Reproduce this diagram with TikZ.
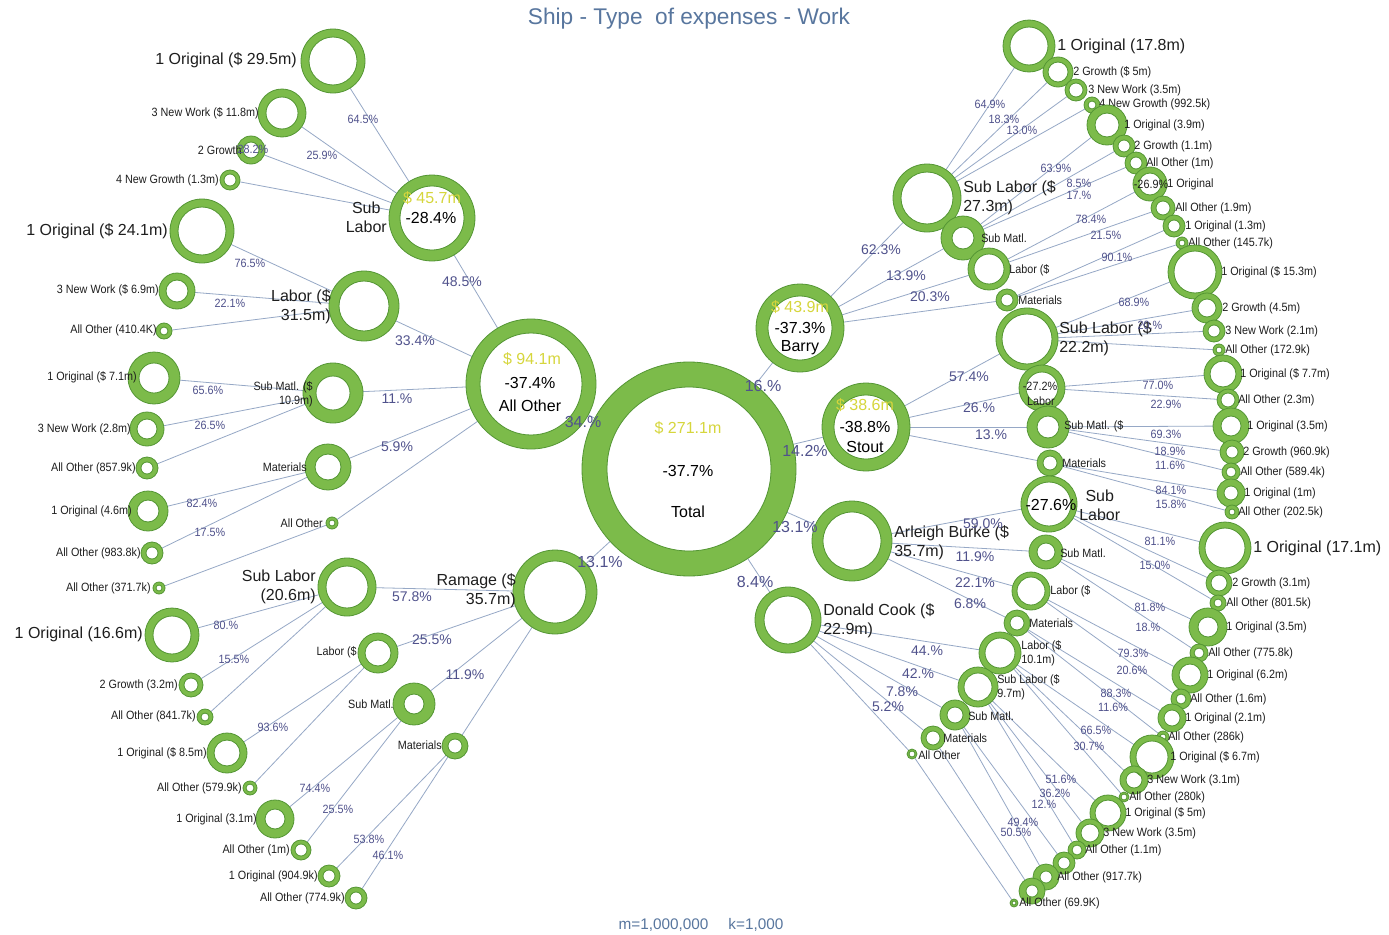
\documentclass[tikz,border=0pt]{standalone}
\usepackage{fontspec}
\setmainfont{Liberation Sans}
\newfontfamily\nf[FakeStretch=0.9]{Liberation Sans}
\definecolor{ringg}{RGB}{124,187,74}
\definecolor{ringd}{RGB}{84,150,52}
\definecolor{linec}{RGB}{150,168,198}
\definecolor{pctc}{RGB}{80,82,140}
\definecolor{labc}{RGB}{30,30,30}
\definecolor{yelc}{RGB}{214,214,60}
\definecolor{titc}{RGB}{88,118,158}
\pgfdeclarelayer{back}
\pgfdeclarelayer{edges}
\pgfsetlayers{back,edges,main}
\tikzset{
  ringfill/.style={fill=ringg, draw=ringd, line width=0.6pt, even odd rule},
  conn/.style={draw=linec, line width=0.6pt},
  big/.style={font=\fontsize{12}{14}\selectfont, text=labc, inner sep=0pt},
  sm/.style={font=\nf\fontsize{9}{10.5}\selectfont, text=labc, inner sep=0pt},
  ps/.style={font=\nf\fontsize{9}{10}\selectfont, text=pctc, inner sep=0pt},
  pm/.style={font=\fontsize{10.5}{12}\selectfont, text=pctc, inner sep=0pt},
  pl/.style={font=\fontsize{12}{13}\selectfont, text=pctc, inner sep=0pt},
  hub/.style={font=\fontsize{12}{13}\selectfont, text=black, inner sep=0pt},
  hubv/.style={font=\fontsize{12}{13}\selectfont, text=yelc, inner sep=0pt},
}
\newcounter{lbl}
\newcommand\Rg[5]{%
  \pgfmathsetmacro\RgA{#4*0.75}\pgfmathsetmacro\RgB{#5*0.75}\pgfmathsetmacro\RgD{#4*1.5}%
  \node[circle, inner sep=0pt, outer sep=0pt, minimum size=\RgD pt] (#1) at (#2,#3) {};
  \path[ringfill] (#1.center) circle[radius=\RgA pt] (#1.center) circle[radius=\RgB pt];}
\newcommand\LL[4][sm]{\stepcounter{lbl}\node[#1,anchor=east] (t\arabic{lbl}) at (#2,#3) {#4};}
\newcommand\LR[4][sm]{\stepcounter{lbl}\node[#1,anchor=west] (t\arabic{lbl}) at (#2,#3) {#4};}
\newcommand\PC[4][ps]{\stepcounter{lbl}\node[#1] (p\arabic{lbl}) at (#2,#3) {#4};}
\newcommand\E[2]{\draw[conn] (#1) -- (#2);}
\begin{document}
\begin{tikzpicture}[x=0.75pt,y=-0.75pt]
\begin{pgfonlayer}{back}
\fill[white] (0,0) rectangle (1389,935);
\end{pgfonlayer}
\useasboundingbox (0,0) rectangle (1389,935);
\node[font=\fontsize{17}{19}\selectfont, text=titc] (title) at (689,19) {Ship - Type~ of expenses - Work};
\node[font=\fontsize{11.5}{13}\selectfont, text=titc] (foot) at (701,925) {m=1,000,000\hspace{1.3em}k=1,000};
% ---------- level 0/1
\Rg{T}{689}{469}{107}{82}
\Rg{AO}{531}{384}{65}{51}
\Rg{BA}{800}{328}{44}{32}
\Rg{ST}{866}{427}{44}{32}
\Rg{AB}{852}{541}{40}{29}
\Rg{DC}{788}{620}{33}{24}
\Rg{RA}{555}{592}{42}{31}
\PC[hubv]{688}{428}{\$ 271.1m}\PC[hub]{688}{471}{-37.7\%}\PC[hub]{688}{512}{Total}
\PC[hubv]{532}{359}{\$ 94.1m}\PC[hub]{530}{383}{-37.4\%}\PC[hub]{530}{406}{All Other}
\PC[hubv]{800}{307}{\$ 43.9m}\PC[hub]{800}{328}{-37.3\%}\PC[hub]{800}{348}{Barry}
\PC[hubv]{865}{405}{\$ 38.6m}\PC[hub]{865}{427}{-38.8\%}\PC[hub]{865}{447}{Stout}
\LL[big,align=right]{516}{591}{Ramage (\$\\35.7m)}
\LR[big,align=left]{894}{543}{Arleigh Burke (\$\\35.7m)}
\LR[big,align=left]{823}{621}{Donald Cook (\$\\22.9m)}
\PC[pl]{583}{422}{34.\%}\PC[pl]{763}{386}{16.\%}\PC[pl]{805}{451}{14.2\%}
\PC[pl]{795}{527}{13.1\%}\PC[pl]{755}{582}{8.4\%}\PC[pl]{600}{562}{13.1\%}
% ---------- All Other subtree
\Rg{aosl}{432}{218}{43}{32}
\PC[hubv]{432}{198}{\$ 45.7m}\PC[hub]{431}{218}{-28.4\%}
\LL[big,align=center]{387}{217}{Sub\\Labor}
\PC[pm]{462}{282}{48.5\%}
\Rg{aoslO}{333}{61}{32}{24}\LL[big]{297}{60}{1 Original (\$ 29.5m)}\PC{363}{119}{64.5\%}
\Rg{aoslN}{282}{113}{24}{16}\LL{259}{113}{3 New Work (\$ 11.8m)}\PC{322}{155}{25.9\%}
\Rg{aoslG}{251}{150}{14}{8}\LL{242}{150}{2 Growth}\PC{253}{149}{28.2\%}
\Rg{aoslNG}{230}{180}{10}{6}\LL{219}{180}{4 New Growth (1.3m)}
\Rg{aolb}{364}{306}{35}{25}\LL[big,align=right]{331}{307}{Labor (\$\\31.5m)}\PC[pm]{415}{341}{33.4\%}
\Rg{aolbO}{202}{231}{32}{24}\LL[big]{168}{231}{1 Original (\$ 24.1m)}\PC{250}{263}{76.5\%}
\Rg{aolbN}{177}{291}{18}{11}\LL{159}{290}{3 New Work (\$ 6.9m)}\PC{230}{303}{22.1\%}
\Rg{aolbA}{164}{331}{8}{4}\LL{157}{330}{All Other (410.4K)}
\Rg{aosm}{333}{393}{30}{17}\LL[sm,align=right]{313}{394}{Sub Matl. (\$\\10.9m)}\PC[pm]{397}{399}{11.\%}
\Rg{aosmO}{154}{378}{26}{15}\LL{137}{377}{1 Original (\$ 7.1m)}\PC{208}{390}{65.6\%}
\Rg{aosmN}{147}{429}{17}{10}\LL{131}{429}{3 New Work (2.8m)}\PC{210}{425}{26.5\%}
\Rg{aosmA}{147}{468}{11}{6}\LL{136}{468}{All Other (857.9k)}
\Rg{aomt}{328}{467}{23}{13}\LL{307}{467}{Materials}\PC[pm]{397}{447}{5.9\%}
\Rg{aomtO}{148}{511}{20}{11}\LL{132}{511}{1 Original (4.6m)}\PC{202}{503}{82.4\%}
\Rg{aomtA}{152}{553}{11}{6}\LL{141}{553}{All Other (983.8k)}\PC{210}{532}{17.5\%}
\Rg{aoao}{332}{523}{6}{3}\LL{323}{523}{All Other}
\Rg{aoaoA}{159}{588}{6}{3}\LL{151}{588}{All Other (371.7k)}
% ---------- Ramage subtree
\Rg{rasl}{347}{587}{29}{21}\LL[big,align=right]{316}{587}{Sub Labor\\(20.6m)}\PC[pm]{412}{597}{57.8\%}
\Rg{raslO}{172}{635}{27}{19}\LL[big]{143}{634}{1 Original (16.6m)}\PC{226}{625}{80.\%}
\Rg{raslG}{191}{685}{12}{7}\LL{178}{685}{2 Growth (3.2m)}\PC{234}{659}{15.5\%}
\Rg{raslA}{205}{717}{8}{4}\LL{196}{716}{All Other (841.7k)}
\Rg{ralb}{378}{653}{20}{13}\LL{357}{652}{Labor (\$}\PC[pm]{432}{640}{25.5\%}
\Rg{ralbO}{227}{753}{20}{13}\LL{207}{753}{1 Original (\$ 8.5m)}\PC{273}{727}{93.6\%}
\Rg{ralbA}{250}{788}{7}{4}\LL{242}{788}{All Other (579.9k)}
\Rg{rasm}{414}{704}{21}{10}\LL{394}{704}{Sub Matl.}\PC[pm]{465}{675}{11.9\%}
\Rg{rasmO}{275}{819}{19}{10}\LL{257}{819}{1 Original (3.1m)}\PC{315}{788}{74.4\%}
\Rg{rasmA}{301}{850}{10}{6}\LL{290}{850}{All Other (1m)}\PC{338}{809}{25.5\%}
\Rg{ramt}{455}{746}{13}{7}\LL{442}{745}{Materials}
\Rg{ramtO}{329}{876}{11}{6}\LL{318}{876}{1 Original (904.9k)}\PC{369}{839}{53.8\%}
\Rg{ramtA}{356}{898}{11}{6}\LL{345}{898}{All Other (774.9k)}\PC{388}{855}{46.1\%}
% ---------- Barry subtree
\Rg{basl}{927}{198}{34}{26}\LR[big,align=left]{963}{198}{Sub Labor (\$\\27.3m)}\PC[pm]{881}{250}{62.3\%}
\Rg{baslO}{1029}{46}{26}{19}\LR[big]{1057}{46}{1 Original (17.8m)}\PC{990}{104}{64.9\%}
\Rg{baslG}{1058}{72}{15}{10}\LR{1073}{72}{2 Growth (\$ 5m)}\PC{1004}{119}{18.3\%}
\Rg{baslN}{1076}{90}{11}{7}\LR{1088}{90}{3 New Work (3.5m)}\PC{1022}{130}{13.0\%}
\Rg{baslNG}{1092}{105}{8}{4}\LR{1099}{104}{4 New Growth (992.5k)}
\Rg{basm}{963}{238}{22}{11}\LR{981}{238}{Sub Matl.}\PC[pm]{906}{276}{13.9\%}
\Rg{basmO}{1107}{125}{20}{12}\LR{1124}{125}{1 Original (3.9m)}\PC{1056}{168}{63.9\%}
\Rg{basmG}{1124}{146}{11}{6}\LR{1134}{146}{2 Growth (1.1m)}\PC{1079}{183}{8.5\%}
\Rg{basmA}{1136}{163}{11}{6}\LR{1146}{163}{All Other (1m)}\PC{1079}{195}{17.\%}
\Rg{balb}{989}{269}{21}{15}\LR{1009}{270}{Labor (\$}\PC[pm]{930}{297}{20.3\%}
\Rg{balbO}{1150}{184}{17}{11}\LR{1167}{184}{1 Original}\PC[sm]{1151}{184}{-26.9\%}\PC{1091}{219}{78.4\%}
\Rg{balbA}{1163}{208}{12}{7}\LR{1175}{208}{All Other (1.9m)}\PC{1106}{235}{21.5\%}
\Rg{bamt}{1007}{300}{11}{6}\LR{1018}{300}{Materials}
\Rg{bamtO}{1174}{226}{11}{6}\LR{1185}{226}{1 Original (1.3m)}\PC{1117}{257}{90.1\%}
\Rg{bamtA}{1182}{243}{6}{3}\LR{1188}{243}{All Other (145.7k)}
% ---------- Stout subtree
\Rg{stsl}{1027}{339}{31}{25}\LR[big,align=left]{1059}{339}{Sub Labor (\$\\22.2m)}\PC[pm]{969}{377}{57.4\%}
\Rg{stslO}{1195}{272}{27}{21}\LR{1221}{272}{1 Original (\$ 15.3m)}\PC{1134}{302}{68.9\%}
\Rg{stslG}{1207}{308}{15}{9}\LR{1222}{308}{2 Growth (4.5m)}\PC{1150}{325}{20.\%}
\Rg{stslN}{1214}{331}{11}{6}\LR{1225}{331}{3 New Work (2.1m)}
\Rg{stslA}{1219}{350}{6}{3}\LR{1225}{350}{All Other (172.9k)}
\Rg{stlb}{1042}{388}{23}{16}\PC[sm]{1040}{386}{-27.2\%}\PC[sm]{1041}{401}{Labor}\PC[pm]{979}{408}{26.\%}
\Rg{stlbO}{1223}{374}{19}{13}\LR{1240}{374}{1 Original (\$ 7.7m)}\PC{1158}{385}{77.0\%}
\Rg{stlbA}{1228}{400}{11}{7}\LR{1238}{400}{All Other (2.3m)}\PC{1166}{404}{22.9\%}
\Rg{stsm}{1048}{427}{21}{11}\LR{1064}{426}{Sub Matl. (\$}\PC[pm]{991}{435}{13.\%}
\Rg{stsmO}{1231}{426}{18}{10}\LR{1247}{426}{1 Original (3.5m)}\PC{1166}{434}{69.3\%}
\Rg{stsmG}{1232}{452}{12}{6}\LR{1243}{452}{2 Growth (960.9k)}\PC{1170}{451}{18.9\%}
\Rg{stsmA}{1231}{472}{9}{5}\LR{1240}{472}{All Other (589.4k)}\PC{1170}{465}{11.6\%}
\Rg{stmt}{1050}{463}{13}{7}\LR{1062}{463}{Materials}
\Rg{stmtO}{1231}{493}{14}{7}\LR{1244}{493}{1 Original (1m)}\PC{1171}{490}{84.1\%}
\Rg{stmtA}{1232}{512}{7}{3}\LR{1238}{512}{All Other (202.5k)}\PC{1171}{504}{15.8\%}
% ---------- Arleigh Burke subtree
\Rg{absl}{1049}{504}{28}{22}\PC[hub]{1051}{505}{-27.6\%}\LR[big,align=center]{1079}{505}{Sub\\Labor}\PC[pm]{983}{524}{59.0\%}
\Rg{abslO}{1225}{548}{26}{20}\LR[big]{1253}{548}{1 Original (17.1m)}\PC{1160}{541}{81.1\%}
\Rg{abslG}{1219}{583}{13}{8}\LR{1232}{583}{2 Growth (3.1m)}\PC{1155}{565}{15.0\%}
\Rg{abslA}{1218}{603}{8}{4}\LR{1226}{603}{All Other (801.5k)}
\Rg{absm}{1046}{552}{17}{9}\LR{1060}{553}{Sub Matl.}\PC[pm]{975}{557}{11.9\%}
\Rg{absmO}{1208}{627}{19}{10}\LR{1226}{627}{1 Original (3.5m)}\PC{1150}{607}{81.8\%}
\Rg{absmA}{1199}{653}{9}{5}\LR{1208}{653}{All Other (775.8k)}\PC{1148}{627}{18.\%}
\Rg{ablb}{1031}{591}{19}{14}\LR{1050}{591}{Labor (\$}\PC[pm]{975}{583}{22.1\%}
\Rg{ablbO}{1190}{675}{18}{11}\LR{1207}{675}{1 Original (6.2m)}\PC{1133}{653}{79.3\%}
\Rg{ablbA}{1181}{699}{10}{5}\LR{1190}{699}{All Other (1.6m)}\PC{1132}{670}{20.6\%}
\Rg{abmt}{1017}{623}{13}{7}\LR{1029}{623}{Materials}\PC[pm]{970}{604}{6.8\%}
\Rg{abmtO}{1172}{718}{14}{8}\LR{1185}{718}{1 Original (2.1m)}\PC{1116}{693}{88.3\%}
\Rg{abmtA}{1163}{737}{6}{3}\LR{1168}{737}{All Other (286k)}\PC{1113}{707}{11.6\%}
% ---------- Donald Cook subtree
\Rg{dclb}{1000}{653}{21}{15}\LR[sm,align=left]{1021}{653}{Labor (\$\\10.1m)}\PC[pm]{927}{651}{44.\%}
\Rg{dclbO}{1152}{757}{22}{16}\LR{1170}{757}{1 Original (\$ 6.7m)}\PC{1096}{730}{66.5\%}
\Rg{dclbN}{1134}{780}{14}{8}\LR{1147}{780}{3 New Work (3.1m)}\PC{1089}{746}{30.7\%}
\Rg{dclbA}{1124}{797}{5}{3}\LR{1129}{797}{All Other (280k)}
\Rg{dcsl}{978}{687}{20}{14}\LR[sm,align=left]{997}{687}{Sub Labor (\$\\9.7m)}\PC[pm]{918}{674}{42.\%}
\Rg{dcslO}{1108}{813}{18}{13}\LR{1125}{813}{1 Original (\$ 5m)}\PC{1061}{779}{51.6\%}
\Rg{dcslN}{1090}{833}{14}{9}\LR{1103}{833}{3 New Work (3.5m)}\PC{1055}{793}{36.2\%}
\Rg{dcslA}{1077}{850}{9}{5}\LR{1085}{850}{All Other (1.1m)}\PC{1044}{804}{12.\%}
\Rg{dcsm}{955}{715}{15}{8}\LR{968}{716}{Sub Matl.}\PC[pm]{902}{692}{7.8\%}
\Rg{dcsmO}{1064}{863}{11}{6}\PC{1023}{822}{49.4\%}
\Rg{dcsmA}{1046}{877}{13}{6}\LR{1057}{877}{All Other (917.7k)}\PC{1016}{832}{50.5\%}
\Rg{dcmt}{933}{738}{12}{7}\LR{943}{738}{Materials}\PC[pm]{888}{707}{5.2\%}
\Rg{dcmtO}{1032}{891}{13}{6}
\Rg{dcao}{912}{754}{5}{3}\LR{918}{755}{All Other}
\Rg{dcaoA}{1014}{903}{4}{2}\LR{1019}{903}{All Other (69.9K)}
% ---------- connectors
\begin{pgfonlayer}{edges}
\E{T}{AO}\E{T}{BA}\E{T}{ST}\E{T}{AB}\E{T}{DC}\E{T}{RA}
\E{AO}{aosl}\E{AO}{aolb}\E{AO}{aosm}\E{AO}{aomt}\E{AO}{aoao}
\E{aosl}{aoslO}\E{aosl}{aoslN}\E{aosl}{aoslG}\E{aosl}{aoslNG}
\E{aolb}{aolbO}\E{aolb}{aolbN}\E{aolb}{aolbA}
\E{aosm}{aosmO}\E{aosm}{aosmN}\E{aosm}{aosmA}
\E{aomt}{aomtO}\E{aomt}{aomtA}
\E{aoao}{aoaoA}
\E{RA}{rasl}\E{RA}{ralb}\E{RA}{rasm}\E{RA}{ramt}
\E{rasl}{raslO}\E{rasl}{raslG}\E{rasl}{raslA}
\E{ralb}{ralbO}\E{ralb}{ralbA}
\E{rasm}{rasmO}\E{rasm}{rasmA}
\E{ramt}{ramtO}\E{ramt}{ramtA}
\E{BA}{basl}\E{BA}{basm}\E{BA}{balb}\E{BA}{bamt}
\E{basl}{baslO}\E{basl}{baslG}\E{basl}{baslN}\E{basl}{baslNG}
\E{basm}{basmO}\E{basm}{basmG}\E{basm}{basmA}
\E{balb}{balbO}\E{balb}{balbA}
\E{bamt}{bamtO}\E{bamt}{bamtA}
\E{ST}{stsl}\E{ST}{stlb}\E{ST}{stsm}\E{ST}{stmt}
\E{stsl}{stslO}\E{stsl}{stslG}\E{stsl}{stslN}\E{stsl}{stslA}
\E{stlb}{stlbO}\E{stlb}{stlbA}
\E{stsm}{stsmO}\E{stsm}{stsmG}\E{stsm}{stsmA}
\E{stmt}{stmtO}\E{stmt}{stmtA}
\E{AB}{absl}\E{AB}{absm}\E{AB}{ablb}\E{AB}{abmt}
\E{absl}{abslO}\E{absl}{abslG}\E{absl}{abslA}
\E{absm}{absmO}\E{absm}{absmA}
\E{ablb}{ablbO}\E{ablb}{ablbA}
\E{abmt}{abmtO}\E{abmt}{abmtA}
\E{DC}{dclb}\E{DC}{dcsl}\E{DC}{dcsm}\E{DC}{dcmt}\E{DC}{dcao}
\E{dclb}{dclbO}\E{dclb}{dclbN}\E{dclb}{dclbA}
\E{dcsl}{dcslO}\E{dcsl}{dcslN}\E{dcsl}{dcslA}
\E{dcsm}{dcsmO}\E{dcsm}{dcsmA}
\E{dcmt}{dcmtO}
\E{dcao}{dcaoA}
\end{pgfonlayer}
\end{tikzpicture}
\end{document}
